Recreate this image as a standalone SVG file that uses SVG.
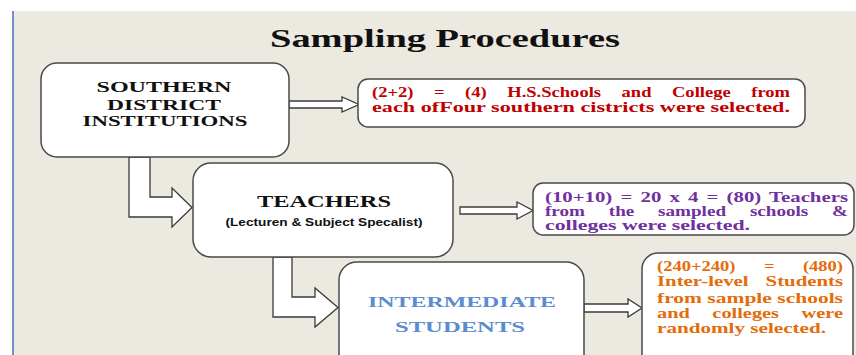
<svg xmlns="http://www.w3.org/2000/svg" width="856" height="355" viewBox="0 0 856 355">
<style>
.box{fill:#ffffff;stroke:#4a4a4a;stroke-width:1.5}
.arr{fill:#ffffff;stroke:#3a3a3a;stroke-width:1.3;stroke-linejoin:miter}
.t{font-family:"Liberation Serif","Times New Roman",serif;font-weight:bold}
.s{font-family:"Liberation Sans",Arial,sans-serif;font-weight:bold}
.j{word-spacing:4px}
</style>
<rect x="0" y="0" width="856" height="355" fill="#ffffff"/>
<rect x="12" y="11" width="844" height="344" fill="#ECE9E0"/>
<line x1="13" y1="11" x2="13" y2="355" stroke="#6F93C9" stroke-width="2"/>
<text class="t" x="270" y="47" font-size="26" textLength="350" lengthAdjust="spacingAndGlyphs" fill="#111">Sampling Procedures</text>

<g id="connectors">
<polygon class="arr" points="289,101 342,101 342,97 359,104.5 342,112 342,108 289,108"/>
<polygon class="arr" points="129,157 129,217 172,217 172,227 192,207.5 172,188 172,197 150,197 150,157"/>
<polygon class="arr" points="460,207 517,207 517,202 533,210.5 517,219 517,214 460,214"/>
<polygon class="arr" points="273,257 273,317 315,317 315,327 338,307.5 315,288 315,297 292,297 292,257"/>
<polygon class="arr" points="584,304 628,304 628,299 642,308 628,317 628,312 584,312"/>
</g>

<g id="southern">
<rect class="box" x="41" y="63" width="248" height="94" rx="16"/>
<text class="t" x="164" y="92" font-size="15" text-anchor="middle" textLength="135" lengthAdjust="spacingAndGlyphs" fill="#111">SOUTHERN</text>
<text class="t" x="164" y="110" font-size="15" text-anchor="middle" textLength="114" lengthAdjust="spacingAndGlyphs" fill="#111">DISTRICT</text>
<text class="t" x="165" y="126" font-size="15" text-anchor="middle" textLength="165" lengthAdjust="spacingAndGlyphs" fill="#111">INSTITUTIONS</text>
</g>

<g id="note1">
<rect class="box" x="358" y="79" width="447" height="48" rx="10"/>
<text class="t j" x="372" y="97" font-size="14" textLength="418" lengthAdjust="spacingAndGlyphs" fill="#C00000" style="word-spacing:12px">(2+2) = (4) H.S.Schools and College from</text>
<text class="t" x="372" y="112" font-size="14" textLength="418" lengthAdjust="spacingAndGlyphs" fill="#C00000">each ofFour southern cistricts were selected.</text>
</g>

<g id="teachers">
<rect class="box" x="193" y="163" width="260" height="94" rx="18"/>
<text class="t" x="324" y="207" font-size="16" text-anchor="middle" textLength="134" lengthAdjust="spacingAndGlyphs" fill="#111">TEACHERS</text>
<text class="s" x="324" y="226" font-size="10" text-anchor="middle" textLength="197" lengthAdjust="spacingAndGlyphs" fill="#111">(Lecturen &amp; Subject Specalist)</text>
</g>

<g id="note2">
<rect class="box" x="533" y="183" width="321" height="52" rx="10"/>
<text class="t" x="545" y="202" font-size="14" textLength="303" lengthAdjust="spacingAndGlyphs" fill="#7030A0" style="word-spacing:2px">(10+10) = 20 x 4 = (80) Teachers</text>
<text class="t" x="545" y="216" font-size="14" textLength="303" lengthAdjust="spacingAndGlyphs" fill="#7030A0" style="word-spacing:14px">from the sampled schools &amp;</text>
<text class="t" x="545" y="230" font-size="14" textLength="205" lengthAdjust="spacingAndGlyphs" fill="#7030A0">colleges were selected.</text>
</g>

<g id="students">
<rect class="box" x="339" y="262" width="245" height="110" rx="18"/>
<text class="t" x="462" y="307" font-size="14" text-anchor="middle" textLength="188" lengthAdjust="spacingAndGlyphs" fill="#5B8BD0">INTERMEDIATE</text>
<text class="t" x="460" y="332" font-size="14" text-anchor="middle" textLength="130" lengthAdjust="spacingAndGlyphs" fill="#5B8BD0">STUDENTS</text>
</g>

<g id="note3">
<rect class="box" x="642" y="253" width="211" height="120" rx="16"/>
<text class="t" x="657" y="271" font-size="14" textLength="186" lengthAdjust="spacingAndGlyphs" fill="#E46C0A" style="word-spacing:18px">(240+240) = (480)</text>
<text class="t" x="657" y="286" font-size="14" textLength="186" lengthAdjust="spacingAndGlyphs" fill="#E46C0A" style="word-spacing:8px">Inter-level Students</text>
<text class="t" x="657" y="303" font-size="14" textLength="186" lengthAdjust="spacingAndGlyphs" fill="#E46C0A">from sample schools</text>
<text class="t" x="657" y="318" font-size="14" textLength="186" lengthAdjust="spacingAndGlyphs" fill="#E46C0A" style="word-spacing:12px">and colleges were</text>
<text class="t" x="657" y="333" font-size="14" textLength="169" lengthAdjust="spacingAndGlyphs" fill="#E46C0A">randomly selected.</text>
</g>
</svg>
